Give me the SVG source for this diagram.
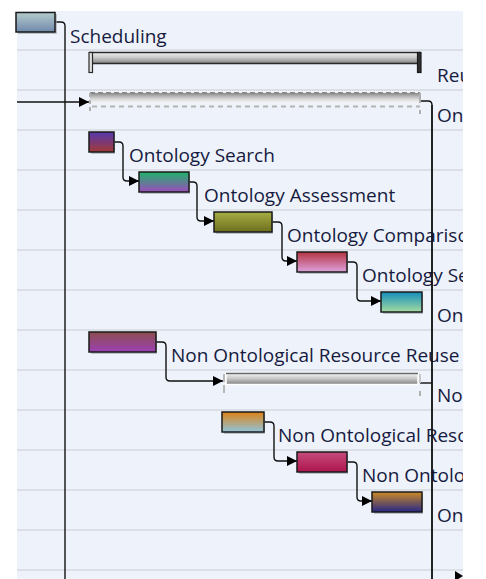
<svg xmlns="http://www.w3.org/2000/svg" width="486" height="579" viewBox="0 0 486 579">
<defs>
<style>
.lbl{font-family:"Open Sans","Noto Sans",sans-serif;font-size:19px;fill:#161a40}
.bar{stroke:#1a1a1a;stroke-width:1.5}
.sh{fill:#9aa0aa;opacity:0.6}
.row{stroke:#dcdfe5;stroke-width:2}
.con{fill:none;stroke:#111;stroke-width:1.4}
</style>
<clipPath id="clip"><rect x="0" y="0" width="463" height="579"/></clipPath>
<marker id="arr" viewBox="0 0 10 10" refX="10" refY="5" markerWidth="10" markerHeight="10" markerUnits="userSpaceOnUse" orient="auto">
<path d="M0,0 L10,5 L0,10 Z" fill="#000"/>
</marker>
<linearGradient id="g0" x1="0" y1="0" x2="0" y2="1"><stop offset="0" stop-color="#b4cccc"/><stop offset="1" stop-color="#7088ac"/></linearGradient>
<linearGradient id="g1" x1="0" y1="0" x2="0" y2="1"><stop offset="0" stop-color="#5638b0"/><stop offset="1" stop-color="#a23a36"/></linearGradient>
<linearGradient id="g2" x1="0" y1="0" x2="0" y2="1"><stop offset="0" stop-color="#1eb46a"/><stop offset="1" stop-color="#9c4cbc"/></linearGradient>
<linearGradient id="g3" x1="0" y1="0" x2="0" y2="1"><stop offset="0" stop-color="#a8ae44"/><stop offset="1" stop-color="#6c6e1e"/></linearGradient>
<linearGradient id="g4" x1="0" y1="0" x2="0" y2="1"><stop offset="0" stop-color="#b43442"/><stop offset="1" stop-color="#dca2dc"/></linearGradient>
<linearGradient id="g5" x1="0" y1="0" x2="0" y2="1"><stop offset="0" stop-color="#148cbc"/><stop offset="1" stop-color="#a4dca0"/></linearGradient>
<linearGradient id="g6" x1="0" y1="0" x2="0" y2="1"><stop offset="0" stop-color="#8c4e4e"/><stop offset="1" stop-color="#9c40b4"/></linearGradient>
<linearGradient id="g7" x1="0" y1="0" x2="0" y2="1"><stop offset="0" stop-color="#dc8214"/><stop offset="1" stop-color="#90c4dc"/></linearGradient>
<linearGradient id="g8" x1="0" y1="0" x2="0" y2="1"><stop offset="0" stop-color="#c44c7c"/><stop offset="1" stop-color="#ae144e"/></linearGradient>
<linearGradient id="g9" x1="0" y1="0" x2="0" y2="1"><stop offset="0" stop-color="#cc8a24"/><stop offset="1" stop-color="#262888"/></linearGradient>
<linearGradient id="gs" x1="0" y1="0" x2="0" y2="1"><stop offset="0" stop-color="#f4f4f4"/><stop offset="0.5" stop-color="#c4c4c4"/><stop offset="1" stop-color="#808080"/></linearGradient>
<linearGradient id="gd" x1="0" y1="0" x2="0" y2="1"><stop offset="0" stop-color="#8a8a8a"/><stop offset="0.6" stop-color="#d8d8d8"/><stop offset="1" stop-color="#f6f6f6"/></linearGradient>
</defs>
<rect x="0" y="0" width="486" height="579" fill="#ffffff"/>
<rect x="17" y="11" width="446" height="568" fill="#eef3fb"/>
<g id="rows">
<line class="row" x1="17" y1="50" x2="463" y2="50"/>
<line class="row" x1="17" y1="90" x2="463" y2="90"/>
<line class="row" x1="17" y1="130" x2="463" y2="130"/>
<line class="row" x1="17" y1="170" x2="463" y2="170"/>
<line class="row" x1="17" y1="210" x2="463" y2="210"/>
<line class="row" x1="17" y1="250" x2="463" y2="250"/>
<line class="row" x1="17" y1="290" x2="463" y2="290"/>
<line class="row" x1="17" y1="330" x2="463" y2="330"/>
<line class="row" x1="17" y1="370" x2="463" y2="370"/>
<line class="row" x1="17" y1="410" x2="463" y2="410"/>
<line class="row" x1="17" y1="450" x2="463" y2="450"/>
<line class="row" x1="17" y1="490" x2="463" y2="490"/>
<line class="row" x1="17" y1="530" x2="463" y2="530"/>
<line class="row" x1="17" y1="570" x2="463" y2="570"/>
</g>
<g id="connectors">
<path class="con" d="M55,22 H61 Q65,22 65,26 V579"/>
<path class="con" d="M17,102 H89" marker-end="url(#arr)"/>
<path class="con" d="M421,101 H428 Q432,101 432,105 V579"/>
<path class="con" d="M420,383 H432"/>
<path class="con" d="M114,142 H119 Q123,142 123,146 V177 Q123,181 127,181 H139" marker-end="url(#arr)"/>
<path class="con" d="M189,182 H193 Q197,182 197,186 V217 Q197,221 201,221 H214" marker-end="url(#arr)"/>
<path class="con" d="M272,222 H278 Q282,222 282,226 V257 Q282,261 286,261 H297" marker-end="url(#arr)"/>
<path class="con" d="M347,262 H353 Q357,262 357,266 V297 Q357,301 361,301 H381" marker-end="url(#arr)"/>
<path class="con" d="M156,342 H162 Q166,342 166,346 V377 Q166,381 170,381 H223" marker-end="url(#arr)"/>
<path class="con" d="M264,422 H270 Q274,422 274,426 V457 Q274,461 278,461 H297" marker-end="url(#arr)"/>
<path class="con" d="M347,462 H353 Q357,462 357,466 V497 Q357,501 361,501 H372" marker-end="url(#arr)"/>
<path d="M455,571 L463,576 L455,581 Z" fill="#000"/>
</g>
<g id="n-top"><rect class="sh" x="18" y="14" width="39" height="20"/><rect class="bar" x="16" y="12.5" width="39" height="19.5" fill="url(#g0)"/></g>
<g clip-path="url(#clip)">
<g id="n-scheduling"><text class="lbl" x="70" y="43">Scheduling</text></g>
<g id="n-reuse">
<rect x="90" y="52.5" width="330" height="11" fill="url(#gs)" stroke="#2a2a2a" stroke-width="1.5"/>
<rect x="89" y="52.5" width="3.5" height="20" fill="#e0e0e0" stroke="#2a2a2a" stroke-width="1.2"/>
<rect x="417.5" y="52.5" width="3.5" height="20" fill="#303030" stroke="#1a1a1a" stroke-width="1.2"/>
<text class="lbl" x="437" y="82">Reu</text>
</g>
<g id="n-ontreuse">
<rect x="90" y="93" width="330" height="10" fill="url(#gd)"/>
<line x1="90" y1="93" x2="420" y2="93" stroke="#8a8a8a" stroke-width="2" stroke-dasharray="5,3"/>
<line x1="92" y1="106.5" x2="420" y2="106.5" stroke="#b4b4b4" stroke-width="2" stroke-dasharray="5,4"/>
<line x1="90" y1="93" x2="90" y2="114" stroke="#b0b0b0" stroke-width="2" stroke-dasharray="4,3"/>
<line x1="420" y1="93" x2="420" y2="103" stroke="#b0b0b0" stroke-width="2"/>
<line x1="420" y1="110" x2="420" y2="114" stroke="#b0b0b0" stroke-width="2"/>
<text class="lbl" x="437" y="122">On</text>
</g>
<g id="n-search"><rect class="sh" x="91" y="134" width="24" height="20"/><rect class="bar" x="89" y="132" width="25" height="20" fill="url(#g1)"/><text class="lbl" x="129" y="162">Ontology Search</text></g>
<g id="n-assess"><rect class="sh" x="141" y="174" width="49" height="20"/><rect class="bar" x="139" y="172" width="50" height="20" fill="url(#g2)"/><text class="lbl" x="204" y="202">Ontology Assessment</text></g>
<g id="n-compare"><rect class="sh" x="216" y="214" width="57" height="20"/><rect class="bar" x="214" y="212" width="58" height="20" fill="url(#g3)"/><text class="lbl" x="287" y="242">Ontology Compariso</text></g>
<g id="n-select"><rect class="sh" x="299" y="254" width="49" height="20"/><rect class="bar" x="297" y="252" width="50" height="20" fill="url(#g4)"/><text class="lbl" x="362" y="282">Ontology Se</text></g>
<g id="n-integ"><rect class="sh" x="383" y="294" width="40" height="20"/><rect class="bar" x="381" y="292" width="41" height="20" fill="url(#g5)"/><text class="lbl" x="437" y="322">On</text></g>
<g id="n-nor"><rect class="sh" x="91" y="334" width="66" height="20"/><rect class="bar" x="89" y="332" width="67" height="20" fill="url(#g6)"/><text class="lbl" x="171" y="362">Non Ontological Resource Reuse</text></g>
<g id="n-norsum">
<rect x="226" y="373.5" width="192" height="11" fill="url(#gs)" stroke="#ffffff" stroke-width="1.5"/>
<line x1="226" y1="373.5" x2="418" y2="373.5" stroke="#6a6a6a" stroke-width="1.5"/>
<line x1="224" y1="374" x2="224" y2="395" stroke="#b8b8b8" stroke-width="2" stroke-dasharray="8,3"/>
<line x1="420" y1="374" x2="420" y2="383" stroke="#c8c8c8" stroke-width="2"/>
<line x1="420" y1="391" x2="420" y2="396" stroke="#b0b0b0" stroke-width="2"/>
<text class="lbl" x="437" y="402">No</text>
</g>
<g id="n-nors1"><rect class="sh" x="224" y="414" width="41" height="20"/><rect class="bar" x="222" y="412" width="42" height="20" fill="url(#g7)"/><text class="lbl" x="278" y="442">Non Ontological Reso</text></g>
<g id="n-nors2"><rect class="sh" x="299" y="454" width="49" height="20"/><rect class="bar" x="297" y="452" width="50" height="20" fill="url(#g8)"/><text class="lbl" x="362" y="482">Non Ontolo</text></g>
<g id="n-nors3"><rect class="sh" x="374" y="494" width="49" height="20"/><rect class="bar" x="372" y="492" width="50" height="20" fill="url(#g9)"/><text class="lbl" x="437" y="522">On</text></g>
</g>
<line x1="432" y1="105" x2="432" y2="579" stroke="#111" stroke-width="1.4"/>
</svg>
